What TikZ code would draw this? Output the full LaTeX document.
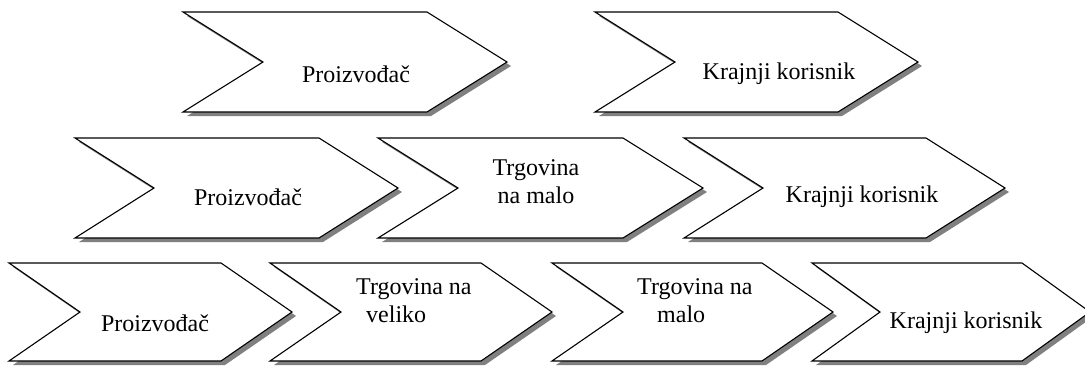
\documentclass[tikz,border=0pt]{standalone}
\usepackage{fontspec}
\setmainfont{Liberation Serif}
\tikzset{
  chevshadow/.style={fill=black!50, draw=none},
  chevbody/.style={fill=white, draw=black, line width=1.1pt, line join=miter},
  chevtext/.style={font=\rmfamily\fontsize{24}{28}\selectfont, align=center, inner sep=0pt, anchor=center},
}
% #1 left, #2 top, #3 tip x, #4 height, #5 depth
\newcommand\chevronat[5]{%
  \fill[chevshadow] ({#1+4},{#2+4}) -- ({#3-#5+4},{#2+4}) -- ({#3+4},{#2+#4/2+4}) -- ({#3-#5+4},{#2+#4+4}) -- ({#1+4},{#2+#4+4}) -- ({#1+#5+4},{#2+#4/2+4}) -- cycle;
  \draw[chevbody] (#1,#2) -- ({#3-#5},#2) -- (#3,{#2+#4/2}) -- ({#3-#5},{#2+#4}) -- (#1,{#2+#4}) -- ({#1+#5},{#2+#4/2}) -- cycle;
}
\begin{document}
\begin{tikzpicture}[x=1pt,y=-1pt]
  \useasboundingbox (0,0) rectangle (1085,365);
  \clip (0,0) rectangle (1085,365);
  % top row
  \chevronat{183}{12}{507}{100}{80}
  \chevronat{595}{12}{918}{100}{80}
  \node[chevtext] (t1) at (356,74) {Proizvođač};
  \node[chevtext] (t2) at (779,74) {Krajnji korisnik};
  % middle row
  \chevronat{75}{138}{398}{100}{79}
  \chevronat{378}{138}{703}{100}{80}
  \chevronat{684}{138}{1005}{100}{79}
  \node[chevtext] (m1) at (248,197) {Proizvođač};
  \node[chevtext] (m2) at (536,182) {Trgovina\\na malo};
  \node[chevtext] (m3) at (862,197) {Krajnji korisnik};
  % bottom row
  \chevronat{9}{263}{292}{98}{71}
  \chevronat{270}{263}{552}{98}{71}
  \chevronat{552}{263}{833}{98}{71}
  \chevronat{812}{263}{1090}{98}{68}
  \node[chevtext] (b1) at (155,323) {Proizvođač};
  \node[chevtext, align=left, anchor=north west] (b2) at (356,278) {Trgovina na\\\hspace*{10pt}veliko};
  \node[chevtext, align=left, anchor=north west] (b3) at (637,278) {Trgovina na\\\hspace*{20pt}malo};
  \node[chevtext] (b4) at (966,323) {Krajnji korisnik};
\end{tikzpicture}
\end{document}
